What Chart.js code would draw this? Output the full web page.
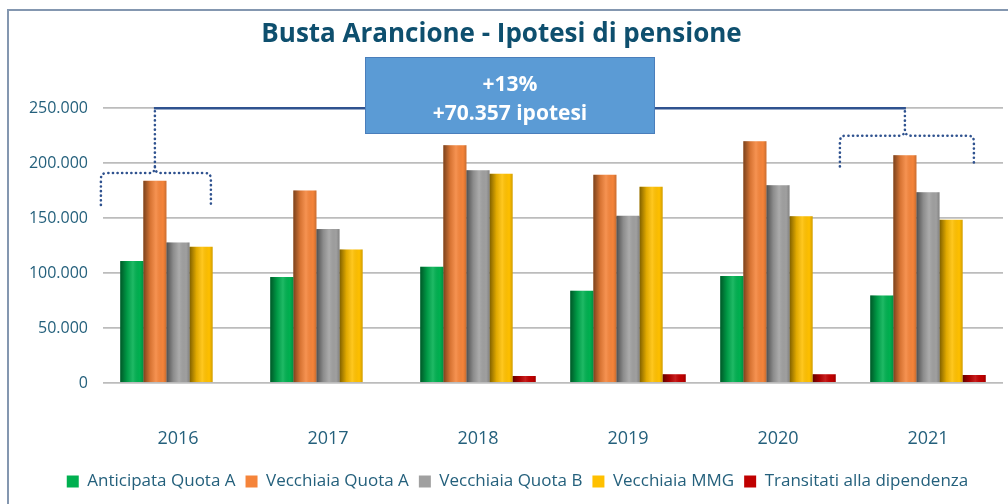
<!DOCTYPE html>
<html>
<head>
<meta charset="utf-8">
<script src="https://cdn.jsdelivr.net/npm/chart.js@4.4.1/dist/chart.umd.min.js"></script>
<style>
  html, body { margin: 0; padding: 0; background: #ffffff; }
  #frame { position: absolute; left: 7px; top: 9px; width: 1100px; height: 600px; border: 2px solid #8497b0; }
  #wrap { position: absolute; left: 0; top: 0; width: 1008px; height: 504px; }
</style>
</head>
<body>
<div id="frame"></div>
<div id="wrap"><canvas id="pensionChart" width="1008" height="504"></canvas></div>
<script>
'use strict';
//** Data */

let years = ['2016', '2017', '2018', '2019', '2020', '2021'];

let anticipataQuotaA = [110900, 96400, 105700, 83900, 97300, 79700];
let vecchiaiaQuotaA = [183900, 175200, 216400, 189400, 220000, 207300];
let vecchiaiaQuotaB = [127900, 140000, 193600, 152100, 180000, 173600];
let vecchiaiaMMG = [123900, 121500, 190300, 178500, 151800, 148500];
let transitatiDipendenza = [0, 0, 6400, 7900, 7900, 7300];

let seriesnames = ['Anticipata Quota A', 'Vecchiaia Quota A', 'Vecchiaia Quota B', 'Vecchiaia MMG', 'Transitati alla dipendenza'];
let seriescolors = ['#00b050', '#f5843a', '#a0a0a0', '#ffc000', '#c00000'];

let yticks = [0, 50000, 100000, 150000, 200000, 250000];

let boxlines = ['+13%', '+70.357 ipotesi'];

let textcolor = '#24607c';
let bracecolor = '#2f528f';

//** Helpers */

function formatnumber(value){
  return String(value).replace(/\B(?=(\d{3})+(?!\d))/g, '.');
}

// shading so the bars look like the rounded excel ones
let barshade = {
  id: 'barshade',
  afterDatasetsDraw(chart){
    let c = chart.ctx;
    c.save();
    chart.data.datasets.forEach(function(ds, i){
      let meta = chart.getDatasetMeta(i);
      meta.data.forEach(function(bar){
        let left = bar.x - bar.width / 2;
        let h = bar.base - bar.y;
        if (h <= 0) return;
        let g = c.createLinearGradient(left, 0, left + bar.width, 0);
        g.addColorStop(0, 'rgba(0,0,0,0.5)');
        g.addColorStop(0.3, 'rgba(0,0,0,0.12)');
        g.addColorStop(0.55, 'rgba(255,255,255,0.12)');
        g.addColorStop(0.85, 'rgba(0,0,0,0)');
        g.addColorStop(1, 'rgba(0,0,0,0.18)');
        c.fillStyle = g;
        c.fillRect(left, bar.y, bar.width, h);
      });
    });
    c.restore();
  }
};

// legend sits a bit right of centre in the original
let legendshift = {
  id: 'legendshift',
  afterLayout(chart){
    chart.legend.left += 16;
    chart.legend.right += 16;
  }
};

function drawbrace(c, tip, half1, half2, ybrace, yend, ytop){
  let r = 6;
  c.beginPath();
  c.moveTo(tip - half1, yend);
  c.lineTo(tip - half1, ybrace + r);
  c.quadraticCurveTo(tip - half1, ybrace, tip - half1 + r, ybrace);
  c.lineTo(tip - 6, ybrace);
  c.quadraticCurveTo(tip, ybrace, tip, ybrace - 6);
  c.lineTo(tip, ytop);
  c.moveTo(tip, ybrace - 6);
  c.quadraticCurveTo(tip, ybrace, tip + 6, ybrace);
  c.lineTo(tip + half2 - r, ybrace);
  c.quadraticCurveTo(tip + half2, ybrace, tip + half2, ybrace + r);
  c.lineTo(tip + half2, yend);
  c.stroke();
}

let annotations = {
  id: 'annotations',
  afterDraw(chart){
    let c = chart.ctx;
    let y = chart.scales.y;
    let orange = chart.getDatasetMeta(1).data;
    let xl = orange[0].x;
    let xr = orange[orange.length - 1].x;
    let ytop = y.getPixelForValue(250000);

    c.save();
    c.strokeStyle = bracecolor;
    c.lineWidth = 2.5;
    c.beginPath();
    c.moveTo(xl - 1, ytop);
    c.lineTo(xr + 1, ytop);
    c.stroke();

    c.setLineDash([0.1, 4.5]);
    c.lineCap = 'round';
    c.lineWidth = 2.6;
    drawbrace(c, xl, 54, 56, y.getPixelForValue(191000), y.getPixelForValue(162000), ytop);
    drawbrace(c, xr, 65, 69, y.getPixelForValue(225000), y.getPixelForValue(197000), ytop);
    c.restore();

    // blue box
    let bw = 290;
    let bh = 77;
    let bx = chart.width / 2 + 6 - bw / 2;
    let by = 57;
    c.save();
    c.fillStyle = '#5b9bd5';
    c.fillRect(bx, by, bw, bh);
    c.strokeStyle = '#4a7ebb';
    c.lineWidth = 1;
    c.strokeRect(bx + 0.5, by + 0.5, bw - 1, bh - 1);
    c.fillStyle = '#ffffff';
    c.font = 'bold 21px "Open Sans"';
    c.textAlign = 'center';
    c.textBaseline = 'middle';
    c.fillText(boxlines[0], bx + bw / 2, by + 28);
    c.fillText(boxlines[1], bx + bw / 2, by + 57);
    c.restore();
  }
};

//** Chart */

let ctx = document.getElementById('pensionChart');

let datasets = [anticipataQuotaA, vecchiaiaQuotaA, vecchiaiaQuotaB, vecchiaiaMMG, transitatiDipendenza].map(function(values, i){
  return {
    label: seriesnames[i],
    data: values,
    backgroundColor: seriescolors[i],
    borderWidth: 0,
    categoryPercentage: 0.77,
    barPercentage: 1.0
  };
});

let chartObj = {
  type: 'bar',
  data: {
    labels: years,
    datasets: datasets
  },
  options: {
    responsive: false,
    animation: false,
    layout: {
      padding: { left: 0, right: 5, top: 0, bottom: 4 }
    },
    plugins: {
      title: {
        display: true,
        text: 'Busta Arancione - Ipotesi di pensione',
        color: '#0e4f6e',
        font: { family: '"Open Sans"', size: 26, weight: 'bold' },
        padding: { top: 19, bottom: 58 }
      },
      legend: {
        position: 'bottom',
        labels: {
          color: textcolor,
          font: { family: '"Open Sans"', size: 17 },
          boxWidth: 12,
          boxHeight: 12,
          padding: 10
        }
      },
      tooltip: { enabled: false }
    },
    scales: {
      x: {
        grid: { display: false },
        border: { display: false },
        ticks: {
          color: textcolor,
          font: { family: '"Open Sans"', size: 18 },
          padding: 37
        },
        afterFit: function(scale){
          scale.height = 80;
        }
      },
      y: {
        min: 0,
        max: 250000,
        afterBuildTicks: function(scale){
          scale.ticks = yticks.map(function(v){ return { value: v }; });
        },
        grid: { color: '#bcbcbc', lineWidth: 1.8, drawTicks: false },
        border: { display: false },
        ticks: {
          color: textcolor,
          font: { family: '"Open Sans"', size: 16 },
          padding: 15,
          callback: function(value){ return formatnumber(value); }
        },
        afterFit: function(scale){
          scale.width = 103;
        }
      }
    }
  },
  plugins: [legendshift, barshade, annotations]
};

let pensionchart = new Chart(ctx, chartObj);
</script>
</body>
</html>
